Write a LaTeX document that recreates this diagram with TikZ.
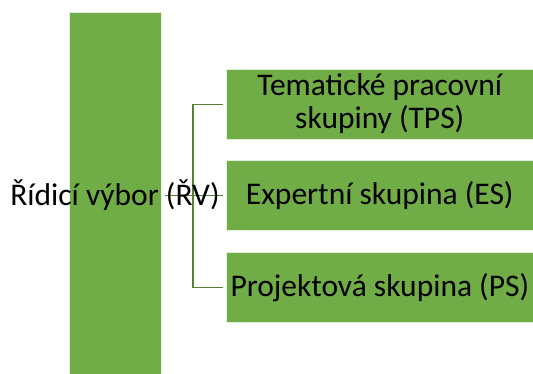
\documentclass[tikz,border=0pt]{standalone}
\usepackage{fontspec}
\setmainfont{Carlito}
\definecolor{boxgreen}{HTML}{70AD47}
\definecolor{linegreen}{HTML}{548235}
\begin{document}
\begin{tikzpicture}[x=1pt,y=-1pt,
  gbox/.style={draw=white!80!boxgreen, line width=0.6pt, fill=boxgreen, inner sep=0pt, anchor=north west},
  lbl/.style={font=\fontsize{31.5}{33}\selectfont, text=black, align=center, inner sep=0pt},
  conn/.style={draw=linegreen, line width=1.5pt}]
\useasboundingbox (0,0) rectangle (533,374);
\node[gbox, minimum width=92pt, minimum height=362pt] (rv) at (69,12) {};
\node[gbox, minimum width=307pt, minimum height=70pt] (tps) at (226,69) {};
\node[gbox, minimum width=307pt, minimum height=70pt] (es) at (226,160) {};
\node[gbox, minimum width=307pt, minimum height=70pt] (ps) at (226,252) {};
\draw[conn] ([xshift=3pt]rv.east |- es.west) -- ([xshift=-3pt]es.west);
\draw[conn] ([xshift=-3pt]tps.west) -- ++(-30pt,0) |- ([xshift=-3pt]ps.west);
\node[lbl] (rvt) at (115,195) {Řídicí výbor (ŘV)};
\node[lbl] (tpst) at ([yshift=1pt]tps.center) {Tematické pracovní\\skupiny (TPS)};
\node[lbl] (est) at (es.center) {Expertní skupina (ES)};
\node[lbl] (pst) at (ps.center) {Projektová skupina (PS)};
\end{tikzpicture}
\end{document}
